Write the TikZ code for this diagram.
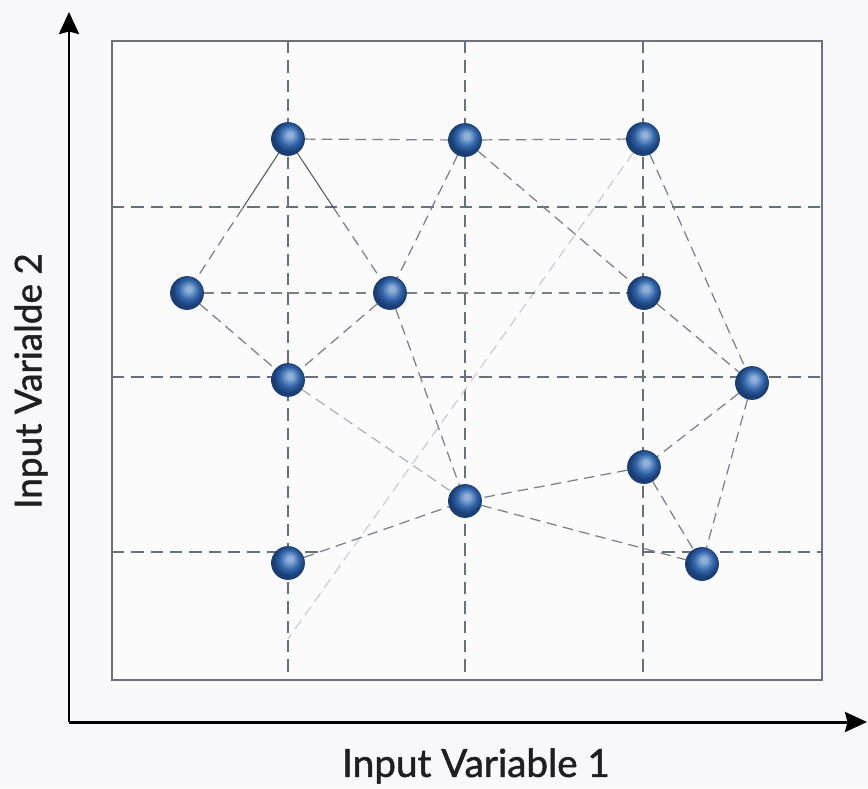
\documentclass[tikz,border=0pt]{standalone}
\usepackage{fontspec}
\setmainfont{Lato}
\newfontfamily\labfont{Lato}[FakeBold=1.3]
\usetikzlibrary{arrows.meta,calc,backgrounds}
\definecolor{bgc}{HTML}{F8F8FA}
\definecolor{framec}{HTML}{6E7278}
\definecolor{gridc}{HTML}{68707A}
\definecolor{edgec}{HTML}{7C8086}
\definecolor{edgelight}{HTML}{A9ADB2}
\definecolor{edgefaint}{HTML}{C8CBCF}
\definecolor{edgedark}{HTML}{55585D}
\definecolor{sphHi}{HTML}{8FB0D8}
\definecolor{sphMid}{HTML}{3064A8}
\definecolor{sphDk}{HTML}{1A3F76}
\definecolor{sphLine}{HTML}{1C3C6A}
\pgfdeclareradialshading{myball}{\pgfqpoint{3bp}{7bp}}{color(0bp)=(sphHi); color(4bp)=(sphHi); color(15bp)=(sphMid); color(23bp)=(sphDk); color(25bp)=(sphDk); color(50bp)=(sphDk)}
\tikzset{
  sph/.style={circle, inner sep=0pt, minimum size=0.66cm, shading=myball, draw=sphLine, line width=0.4pt},
  gridline/.style={draw=gridc, line width=0.75pt, dash pattern=on 7pt off 4pt},
  edge/.style={draw=edgec, line width=0.7pt, dash pattern=on 6pt off 3.6pt},
  edgesolid/.style={draw=edgedark, line width=0.6pt},
  edgel/.style={draw=edgelight, line width=0.65pt, dash pattern=on 6pt off 3.6pt},
  edgef/.style={draw=edgefaint, line width=0.65pt, dash pattern=on 6pt off 3.6pt},
  axis/.style={draw=black, line width=1.7pt, -{Stealth[length=0.44cm, width=0.40cm, inset=0.05cm]}},
  axlabel/.style={font=\labfont\fontsize{21}{25}\selectfont, text=black!88}
}
\begin{document}
\begin{tikzpicture}[x=0.02cm, y=-0.02cm]
\useasboundingbox (0,0) rectangle (868,788);
% nodes
\node[sph] (A) at (288,139) {};
\node[sph] (B) at (465,140) {};
\node[sph] (C) at (643,139) {};
\node[sph] (D) at (187,293) {};
\node[sph] (E) at (390,293) {};
\node[sph] (F) at (644,293) {};
\node[sph] (G) at (288,380) {};
\node[sph] (H) at (752,383) {};
\node[sph] (I) at (644,467) {};
\node[sph] (J) at (465,501) {};
\node[sph] (K) at (288,563) {};
\node[sph] (L) at (702,564) {};
\coordinate (Cend) at (288,639);
% axes origin
\coordinate (O) at (69,722);
\coordinate (Ytip) at (69,12);
\coordinate (Xtip) at (867,722);
\node[axlabel, font=\labfont\fontsize{22}{26}\selectfont] (xl) at (476,766) {Input Variable 1};
\node[axlabel, rotate=90] (yl) at (31,381) {Input Varialde 2};
\begin{pgfonlayer}{background}
  \fill[bgc] (0,0) rectangle (868,788);
  \fill[bgc!60!white] (112,41) rectangle (822,680);
  % grid
  \draw[gridline] (288,41) -- (288,680);
  \draw[gridline] (465,41) -- (465,680);
  \draw[gridline] (643,41) -- (643,680);
  \draw[gridline] (112,207) -- (822,207);
  \draw[gridline] (112,377) -- (822,377);
  \draw[gridline] (112,552) -- (322,552);
  \draw[gridline] (643,552) -- (822,552);
  \draw[framec, line width=1pt] (112,41) rectangle (822,680);
  % edges
  \draw[edge] (A) -- (B);
  \draw[edge] (B) -- (C);
  \draw[edgesolid] (A) -- ($(A)!0.45!(D)$);
  \draw[edge] ($(A)!0.45!(D)$) -- (D);
  \draw[edgesolid] (A) -- ($(A)!0.45!(E)$);
  \draw[edge] ($(A)!0.45!(E)$) -- (E);
  \draw[edge] (B) -- (E);
  \draw[edge] (B) -- (F);
  \draw[edgef] (C) -- (Cend);
  \draw[edge] (C) -- (H);
  \draw[edge] (D) -- (E);
  \draw[edge] (E) -- (F);
  \draw[edge] (D) -- (G);
  \draw[edge] (E) -- (G);
  \draw[edge] (E) -- (J);
  \draw[edgel] (G) -- (J);
  \draw[edge] (F) -- (H);
  \draw[edge] (H) -- (I);
  \draw[edge] (H) -- (L);
  \draw[edge] (I) -- (J);
  \draw[edge] (I) -- (L);
  \draw[edge] (J) -- (L);
  \draw[edge] (K) -- (J);
  % axes
  \draw[axis] (O) -- (Ytip);
  \draw[axis] (O) -- (Xtip);
\end{pgfonlayer}
\end{tikzpicture}
\end{document}
